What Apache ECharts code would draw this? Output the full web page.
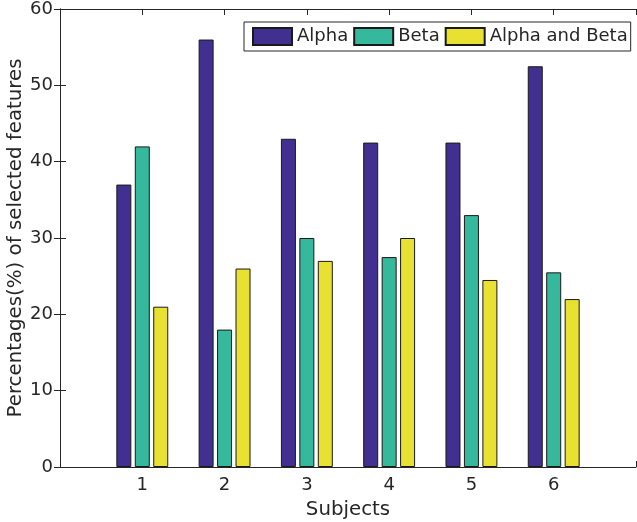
<!DOCTYPE html>
<html>
<head>
<meta charset="utf-8">
<script src="https://cdn.jsdelivr.net/npm/echarts@6/dist/echarts.min.js"></script>
<style>html,body{margin:0;padding:0;background:#fff;}#c{width:637px;height:522px;}</style>
</head>
<body>
<div id="c"></div>
<script>
const categories = ['1', '2', '3', '4', '5', '6'];
const alpha = [37, 56, 43, 42.5, 42.5, 52.5];
const beta = [42, 18, 30, 27.5, 33, 25.5];
const alphaBeta = [21, 26, 27, 30, 24.5, 22];
const yTicks = [0, 10, 20, 30, 40, 50, 60];

const FONT = 'DejaVu Sans';
const AX = '#262626';
const toPts = arr => arr.map((v, i) => [i + 1, v]);

const chart = echarts.init(document.getElementById('c'), null, {renderer: 'canvas'});
const barCommon = {
  type: 'bar',
  barWidth: 15,
  barGap: '23%',
  itemStyle: {borderColor: '#1a1a1a', borderWidth: 1},
  emphasis: {disabled: true}
};
const xBase = {
  type: 'value', min: 0, max: categories.length + 1, interval: 1,
  axisLine: {show: true, onZero: false, lineStyle: {color: AX, width: 1}},
  axisTick: {show: true, inside: true, length: 6, lineStyle: {color: AX}},
  splitLine: {show: false}
};
const yBase = {
  type: 'value', min: yTicks[0], max: yTicks[yTicks.length - 1], interval: 10,
  axisLine: {show: true, lineStyle: {color: AX, width: 1}},
  axisTick: {show: true, inside: true, length: 6, lineStyle: {color: AX}},
  splitLine: {show: false}
};
chart.setOption({
  animation: false,
  backgroundColor: '#fff',
  textStyle: {fontFamily: FONT},
  grid: {left: 60, top: 9, right: 1, bottom: 55, containLabel: false, outerBoundsMode: 'none'},
  legend: {
    left: 244, top: 22,
    orient: 'horizontal',
    itemWidth: 39, itemHeight: 17, itemGap: 5,
    padding: [5, 3, 5, 8],
    backgroundColor: '#fff',
    borderColor: AX, borderWidth: 1, borderRadius: 0,
    icon: 'rect',
    textStyle: {fontFamily: FONT, fontSize: 18, color: '#262626'},
    data: ['Alpha', 'Beta', 'Alpha and Beta']
  },
  xAxis: [
    Object.assign({}, xBase, {
      position: 'bottom',
      name: 'Subjects', nameLocation: 'middle', nameGap: 33,
      nameTextStyle: {fontFamily: FONT, fontSize: 19.8, color: '#262626'},
      axisLabel: {
        show: true, margin: 9, fontFamily: FONT, fontSize: 18, color: '#262626',
        formatter: v => (v >= 1 && v <= categories.length) ? categories[v - 1] : ''
      }
    }),
    Object.assign({}, xBase, {position: 'top', axisLabel: {show: false}})
  ],
  yAxis: [
    Object.assign({}, yBase, {
      position: 'left',
      name: 'Percentages(%) of selected features', nameLocation: 'middle', nameGap: 34,
      nameMoveOverlap: false,
      nameTextStyle: {fontFamily: FONT, fontSize: 19.8, color: '#262626'},
      axisLabel: {show: true, margin: 7, fontFamily: FONT, fontSize: 18, color: '#262626'}
    }),
    Object.assign({}, yBase, {position: 'right', axisLabel: {show: false}})
  ],
  series: [
    Object.assign({}, barCommon, {name: 'Alpha', data: toPts(alpha), itemStyle: Object.assign({}, barCommon.itemStyle, {color: '#41308F'})}),
    Object.assign({}, barCommon, {name: 'Beta', data: toPts(beta), itemStyle: Object.assign({}, barCommon.itemStyle, {color: '#36B89C'})}),
    Object.assign({}, barCommon, {name: 'Alpha and Beta', data: toPts(alphaBeta), itemStyle: Object.assign({}, barCommon.itemStyle, {color: '#E8E131'})})
  ]
});
</script>
</body>
</html>
